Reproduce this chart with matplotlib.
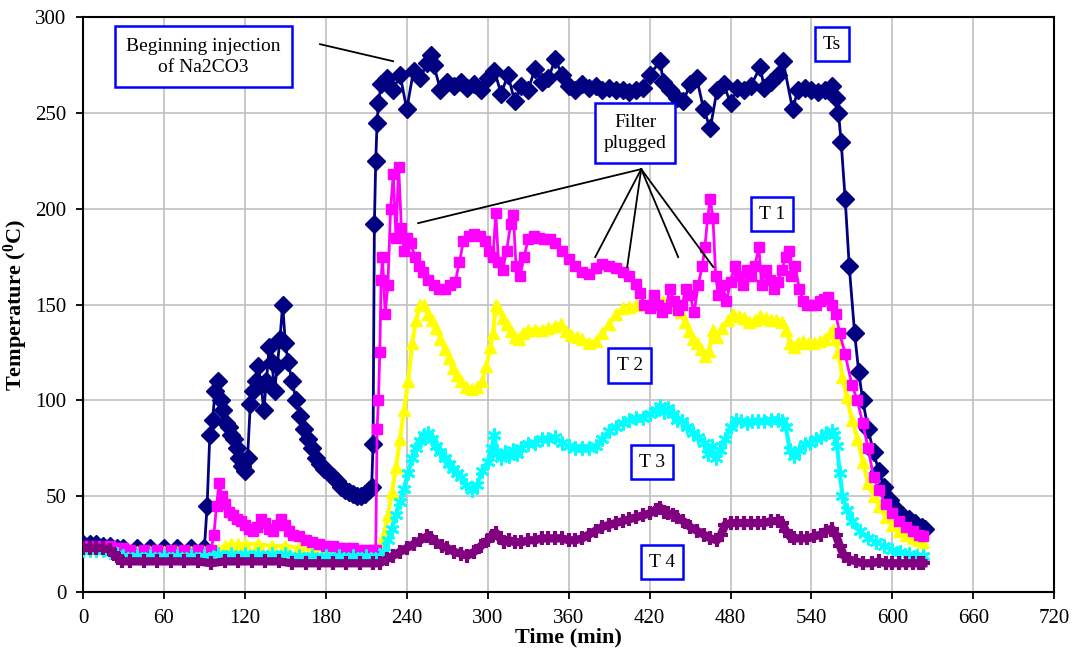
import matplotlib
matplotlib.use('Agg')
import matplotlib.pyplot as plt
from matplotlib.patches import Rectangle

plt.rcParams['font.family'] = ['Liberation Serif', 'DejaVu Serif']
plt.rcParams['mathtext.fontset'] = 'custom'
plt.rcParams['mathtext.rm'] = 'Liberation Serif'
plt.rcParams['mathtext.bf'] = 'Liberation Serif:bold'

# --- data (time in min, temperature in deg C) ---
ts_time = [0, 5, 10, 15, 20, 25, 30, 40, 50, 60, 70, 80, 90,
           92, 94, 96, 98, 100, 102, 104, 106, 108, 110, 112, 114, 116, 118, 120,
           122, 124, 126, 128, 130, 132, 134, 136, 138, 140, 142, 144, 146, 148,
           150, 152, 155, 158, 161, 164, 167, 170, 173, 176, 179, 182, 185, 188,
           191, 194, 197, 200, 203, 206, 209, 212, 214, 215, 216, 217, 218, 219,
           221, 225, 230, 235, 240, 245, 250, 255, 258, 260, 265, 270, 275, 280,
           285, 290, 295, 300, 305, 310, 315, 320, 325, 330, 335, 340, 345, 350,
           355, 360, 365, 370, 375, 380, 385, 390, 395, 400, 405, 410, 415, 420,
           428, 430, 435, 440, 445, 450, 455, 460, 465, 470, 475, 480, 485, 490,
           495, 502, 505, 510, 515, 519, 526, 530, 535, 540, 545, 550, 555,
           558, 560, 562, 565, 568, 572, 575, 578, 582, 586, 590, 594, 598, 602,
           607, 612, 617, 622, 624]
ts_temp = [25, 25, 25, 24, 24, 23, 23, 23, 23, 23, 23, 23, 23,
           45, 82, 90, 105, 110, 100, 95, 88, 86, 82, 80, 75, 70, 66, 63,
           70, 98, 105, 110, 118, 108, 95, 110, 128, 120, 105, 118, 132, 150,
           130, 120, 110, 100, 92, 85, 80, 75, 70, 67, 64, 62, 60, 58,
           55, 53, 52, 51, 50, 50, 51, 53, 55, 77, 192, 225, 245, 255,
           265, 268, 262, 270, 252, 272, 268, 276, 280, 275, 262, 266, 264, 266,
           263, 265, 262, 268, 272, 260, 270, 256, 264, 262, 273, 266, 268, 278,
           270, 264, 262, 265, 263, 264, 262, 263, 262, 262, 261, 262, 263, 270,
           277, 266, 262, 258, 256, 265, 268, 252, 242, 262, 265, 255, 263, 262,
           264, 274, 263, 266, 270, 277, 252, 262, 263, 262, 261, 262, 264,
           258, 250, 235, 205, 170, 135, 115, 100, 85, 73, 63, 55, 48, 44,
           40, 38, 36, 34, 33]

t1_time = [0, 5, 10, 15, 20, 25, 30, 35, 45, 55, 65, 75, 85, 95,
           97, 99, 101, 103, 105, 108, 111, 114, 117, 120, 123, 126, 129, 132,
           135, 138, 141, 144, 147, 150, 153, 156, 160, 165, 170, 175, 180, 185,
           190, 195, 200, 205, 210, 215, 217, 218, 219, 220, 221, 222, 224, 226,
           228, 230, 232, 234, 236, 238, 240, 243, 246, 249, 252, 256, 260, 264,
           268, 272, 276, 279, 282, 286, 290, 294, 298, 301, 304, 306, 308, 311,
           314, 317, 319, 321, 324, 327, 330, 334, 338, 342, 346, 350, 355, 360,
           365, 370, 375, 380, 385, 390, 395, 400, 405, 410, 413, 416, 420, 423,
           426, 429, 432, 435, 438, 441, 444, 447, 450, 453, 456, 459, 461, 463,
           465, 467, 469, 471, 474, 477, 480, 483, 486, 489, 492, 495, 498, 501,
           503, 506, 509, 512, 515, 518, 521, 523, 525, 528, 531, 534, 537, 540,
           543, 546, 549, 552, 555, 558, 561, 565, 570, 574, 578, 582, 586, 590,
           595, 600, 605, 610, 615, 620, 623]
t1_temp = [24, 24, 24, 24, 24, 23, 23, 22, 22, 22, 22, 22, 22, 22,
           30, 45, 57, 50, 46, 42, 40, 38, 37, 35, 33, 32, 34, 38,
           36, 33, 32, 35, 38, 35, 32, 30, 29, 27, 26, 25, 24, 24,
           23, 23, 23, 22, 22, 22, 22, 85, 100, 125, 163, 175, 145, 160,
           200, 218, 185, 222, 190, 178, 185, 182, 175, 170, 167, 163, 160, 158,
           158, 160, 162, 172, 183, 186, 187, 186, 183, 178, 175, 198, 172, 168,
           178, 192, 197, 170, 165, 175, 184, 186, 185, 184, 184, 182, 178, 174,
           170, 167, 166, 169, 171, 170, 169, 167, 165, 161, 156, 150, 148, 155,
           150, 146, 148, 158, 152, 147, 150, 158, 155, 146, 160, 170, 180, 195,
           205, 195, 165, 155, 160, 152, 162, 170, 165, 160, 168, 165, 170, 180,
           160, 168, 163, 158, 162, 168, 175, 178, 165, 170, 158, 152, 150, 150,
           150, 152, 153, 154, 150, 145, 135, 124, 108, 100, 88, 75, 60, 53,
           46, 41, 37, 34, 32, 30, 29]

t2_time = [0, 5, 10, 15, 20, 25, 30, 40, 50, 60, 70, 80, 90, 100, 105, 110,
           115, 120, 130, 140, 150, 160, 170, 180, 190, 200, 210, 217, 220, 223,
           226, 229, 232, 235, 238, 241, 244, 247, 250, 253, 256, 259, 262, 265,
           268, 271, 274, 277, 280, 284, 288, 292, 296, 299, 302, 304, 306, 308,
           311, 314, 317, 320, 323, 326, 330, 335, 340, 345, 350, 354, 358, 362,
           366, 370, 375, 380, 385, 390, 395, 400, 405, 410, 415, 420, 425, 430,
           435, 440, 443, 446, 449, 452, 455, 458, 461, 464, 467, 470, 474, 478,
           482, 486, 490, 494, 498, 502, 506, 510, 514, 518, 521, 524, 527, 530,
           534, 538, 542, 546, 550, 554, 556, 558, 560, 563, 566, 570, 574, 578,
           582, 586, 590, 595, 600, 605, 610, 615, 620, 623]
t2_temp = [23, 23, 23, 23, 23, 22, 21, 21, 21, 21, 21, 21, 21, 22, 24, 25,
           25, 25, 25, 24, 24, 23, 22, 22, 21, 21, 21, 21, 23, 30,
           40, 52, 65, 80, 95, 110, 130, 142, 150, 150, 145, 142, 138, 132,
           127, 122, 117, 113, 110, 107, 106, 107, 110, 118, 128, 135, 150, 148,
           143, 140, 136, 133, 132, 135, 137, 137, 137, 138, 139, 140, 136, 134,
           133, 132, 130, 131, 135, 140, 145, 148, 149, 150, 151, 151, 152, 152,
           151, 149, 146, 141, 136, 132, 130, 127, 123, 126, 137, 133, 138, 142,
           145, 144, 143, 141, 142, 144, 143, 142, 142, 141, 137, 130, 128, 130,
           131, 130, 130, 131, 132, 135, 137, 132, 125, 112, 102, 90, 80, 68,
           57, 50, 45, 39, 35, 32, 30, 28, 27, 26]

t3_time = [0, 5, 10, 15, 20, 25, 30, 40, 50, 60, 70, 80, 90, 100, 110, 120,
           130, 140, 150, 160, 170, 180, 190, 200, 210, 220, 223, 226, 229, 232,
           235, 238, 241, 244, 247, 250, 253, 256, 259, 262, 265, 268, 271, 274,
           277, 280, 284, 288, 292, 296, 300, 303, 305, 307, 310, 313, 316, 319,
           322, 325, 330, 335, 340, 345, 350, 355, 360, 365, 370, 375, 380, 385,
           390, 395, 400, 405, 410, 415, 420, 425, 428, 431, 434, 437, 440, 444,
           448, 452, 456, 460, 463, 466, 469, 472, 476, 480, 484, 488, 492, 496,
           500, 505, 510, 515, 518, 521, 524, 527, 531, 535, 539, 543, 547, 551,
           555, 557, 559, 561, 563, 566, 570, 576, 582, 588, 594, 600, 606, 612,
           618, 623]
t3_temp = [22, 22, 22, 22, 21, 20, 19, 19, 19, 19, 19, 19, 19, 20, 20, 20,
           20, 20, 20, 19, 19, 19, 19, 19, 19, 19, 21, 27, 33, 40,
           47, 54, 62, 70, 75, 79, 82, 83, 80, 76, 73, 70, 67, 64,
           62, 60, 56, 53, 56, 63, 68, 75, 82, 72, 70, 73, 71, 74,
           72, 75, 77, 78, 80, 80, 81, 78, 76, 75, 75, 75, 76, 80,
           84, 86, 88, 90, 91, 91, 93, 95, 97, 94, 96, 93, 90, 89,
           86, 83, 81, 78, 72, 76, 70, 74, 80, 86, 90, 89, 88, 89,
           89, 89, 90, 90, 89, 86, 74, 71, 74, 77, 78, 80, 81, 83,
           84, 82, 76, 62, 50, 43, 37, 32, 28, 26, 24, 22, 21, 20,
           19, 19]

t4_time = [0, 5, 10, 15, 20, 23, 26, 29, 35, 45, 55, 65, 75, 85, 95, 105,
           115, 125, 135, 145, 155, 165, 175, 185, 195, 205, 215, 220, 225, 230,
           235, 240, 245, 250, 255, 258, 262, 266, 270, 275, 280, 285, 290, 295,
           300, 303, 306, 309, 312, 316, 320, 325, 330, 335, 340, 345, 350, 355,
           360, 365, 370, 375, 380, 385, 390, 395, 400, 405, 410, 415, 420, 425,
           428, 431, 434, 437, 440, 445, 450, 455, 460, 465, 470, 473, 476, 480,
           485, 490, 495, 500, 505, 510, 515, 518, 521, 524, 527, 532, 537, 542,
           547, 551, 555, 558, 561, 564, 568, 573, 578, 585, 590, 595, 600, 605,
           610, 615, 620, 623]
t4_temp = [23, 23, 23, 23, 22, 20, 18, 16, 16, 16, 16, 16, 16, 16, 15, 16,
           16, 16, 16, 16, 15, 15, 15, 15, 15, 15, 15, 15, 17, 19,
           21, 23, 25, 27, 29, 28, 26, 24, 23, 21, 20, 19, 21, 24,
           27, 29, 31, 28, 26, 27, 26, 26, 27, 27, 28, 28, 28, 28,
           27, 27, 28, 30, 32, 34, 35, 36, 37, 38, 39, 40, 41, 43,
           44, 42, 41, 40, 39, 37, 34, 32, 30, 28, 27, 30, 35, 36,
           36, 36, 36, 36, 36, 37, 37, 36, 32, 29, 28, 28, 28, 29,
           30, 32, 33, 30, 24, 19, 17, 16, 15, 15, 16, 15, 15, 15,
           15, 15, 15, 15]

fig = plt.figure(figsize=(10.78, 6.6), dpi=100)
ax = fig.add_axes([0.077, 0.103, 0.901, 0.871])

ax.plot(ts_time, ts_temp, color='#000080', marker='D', markersize=9, lw=2, zorder=3)
ax.plot(t2_time, t2_temp, color='#FFFF00', marker='^', markersize=8, lw=3, zorder=3)
ax.plot(t1_time, t1_temp, color='#FF00FF', marker='s', markersize=7, lw=2, zorder=3)
ax.plot(t3_time, t3_temp, color='#00FFFF', marker=(6, 2, 0), markersize=10, mew=2, lw=3, zorder=3)
ax.plot(t4_time, t4_temp, color='#800080', marker='+', markersize=10, mew=3, lw=6, zorder=3)

ax.set_xlim(0, 720)
ax.set_ylim(0, 300)
ax.set_xticks(range(0, 721, 60))
ax.set_yticks(range(0, 301, 50))
ax.grid(True, color='#C0C0C0', lw=1.2)
ax.set_axisbelow(True)
for s in ax.spines.values():
    s.set_linewidth(1.5)
ax.tick_params(direction='out', length=5, width=1.3, labelsize=15, pad=7)

ax.set_xlabel('Time (min)', fontsize=16, fontweight='bold', labelpad=0)
ax.set_ylabel(r'Temperature ($\mathbf{^{0}}$C)', fontsize=16, fontweight='bold', labelpad=4)

# text boxes with blue frames
def box(x0, x1, y0, y1, text):
    ax.add_patch(Rectangle((x0, y0), x1 - x0, y1 - y0, fc='white', ec='#0000FF',
                           lw=1.8, zorder=5))
    ax.text((x0 + x1) / 2, (y0 + y1) / 2, text, ha='center', va='center',
            fontsize=14, zorder=6, linespacing=1.3)

box(23.7, 155, 263.5, 295.3, 'Beginning injection\nof Na2CO3')
box(542.8, 568, 277, 294.8, 'Ts')
box(379.7, 439, 223.8, 255.1, 'Filter\nplugged')
box(495.3, 526.5, 188.3, 206.1, 'T 1')
box(389.3, 421.2, 109, 127.3, 'T 2')
box(406.3, 437.5, 59, 76.7, 'T 3')
box(413.8, 444.9, 6.8, 24.5, 'T 4')

ax.plot([175.7, 229.9], [285.9, 277.0], color='black', lw=1.3, zorder=6)
for ex, ey in [(248.4, 192.5), (379.7, 174.8), (403.4, 169.6), (441.2, 174.8), (467.2, 169.6)]:
    ax.plot([413.8, ex], [220.7, ey], color='black', lw=1.3, zorder=6)

fig.savefig('out.png', dpi=100)
